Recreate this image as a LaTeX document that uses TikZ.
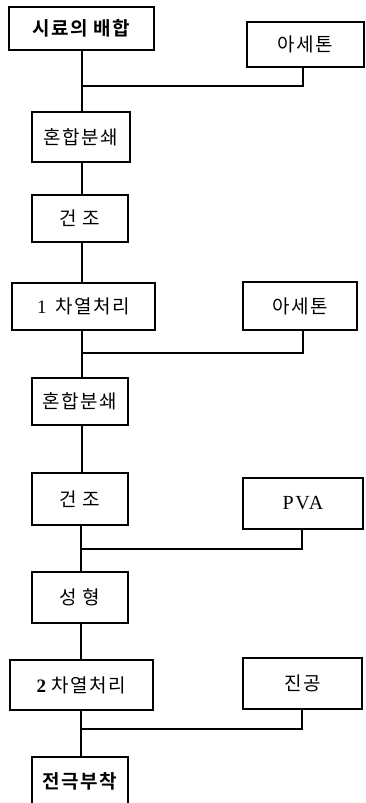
\documentclass[tikz,border=0pt]{standalone}
\usepackage{fontspec}
\setmainfont{Liberation Serif}
\newfontfamily\kr[LetterSpace=8]{Noto Sans CJK KR}
\newfontfamily\krb[LetterSpace=8]{Noto Sans CJK KR Bold}
\newfontfamily\pva[LetterSpace=8]{Liberation Serif}
\begin{document}
\begin{tikzpicture}[x=1pt,y=-1pt,
  proc/.style={draw, line width=1.7pt, inner sep=0pt, font=\kr\fontsize{19}{21}\selectfont},
  link/.style={line width=1.1pt}]
\useasboundingbox (0,0) rectangle (366,803);
% main column
\node[proc, minimum width=145pt, minimum height=43pt, font=\krb\fontsize{19}{21}\selectfont] (b1) at (81.5,28.5) {시료의 배합};
\node[proc, minimum width=98pt, minimum height=50pt] (b2) at (81,137) {혼합분쇄};
\node[proc, minimum width=96pt, minimum height=47pt] (b3) at (80,218.5) {건 조};
\node[proc, minimum width=143pt, minimum height=47pt] (b4) at (83.5,306.5) {{\rmfamily 1}\, 차열처리};
\node[proc, minimum width=96pt, minimum height=47pt] (b5) at (80,401.5) {혼합분쇄};
\node[proc, minimum width=96pt, minimum height=52pt] (b6) at (80,499) {건 조};
\node[proc, minimum width=96pt, minimum height=51pt] (b7) at (80,597.5) {성 형};
\node[proc, minimum width=143pt, minimum height=50pt] (b8) at (81.5,685) {{\rmfamily\bfseries 2} 차열처리};
\node[proc, minimum width=96pt, minimum height=48pt, font=\krb\fontsize{19}{21}\selectfont] (b9) at (80,781) {전극부착};
% side inputs
\node[proc, minimum width=117pt, minimum height=45pt] (a1) at (305.5,44.5) {아세톤};
\node[proc, minimum width=114pt, minimum height=48pt] (a2) at (300,306) {아세톤};
\node[proc, minimum width=120pt, minimum height=51pt, font=\pva\fontsize{20}{22}\selectfont] (p) at (303,503.5) {PVA};
\node[proc, minimum width=119pt, minimum height=51pt] (v) at (302.5,683.5) {진공};
% junctions
\coordinate (j1) at (82,86);
\coordinate (k1) at (303,86);
\coordinate (j2) at (82,353);
\coordinate (k2) at (303,353);
\coordinate (j3) at (81,549);
\coordinate (k3) at (302,549);
\coordinate (j4) at (81,729);
\coordinate (k4) at (302,729);
% connectors
\draw[link] (j1 |- b1.south) -- (j1 |- b2.north);
\draw[link] (k1 |- a1.south) -- (k1) -- (j1);
\draw[link] (j1 |- b2.south) -- (j1 |- b3.north);
\draw[link] (j1 |- b3.south) -- (j1 |- b4.north);
\draw[link] (j2 |- b4.south) -- (j2 |- b5.north);
\draw[link] (k2 |- a2.south) -- (k2) -- (j2);
\draw[link] (j2 |- b5.south) -- (j2 |- b6.north);
\draw[link] (j3 |- b6.south) -- (j3 |- b7.north);
\draw[link] (k3 |- p.south) -- (k3) -- (j3);
\draw[link] (j3 |- b7.south) -- (j3 |- b8.north);
\draw[link] (j4 |- b8.south) -- (j4 |- b9.north);
\draw[link] (k4 |- v.south) -- (k4) -- (j4);
\end{tikzpicture}
\end{document}
